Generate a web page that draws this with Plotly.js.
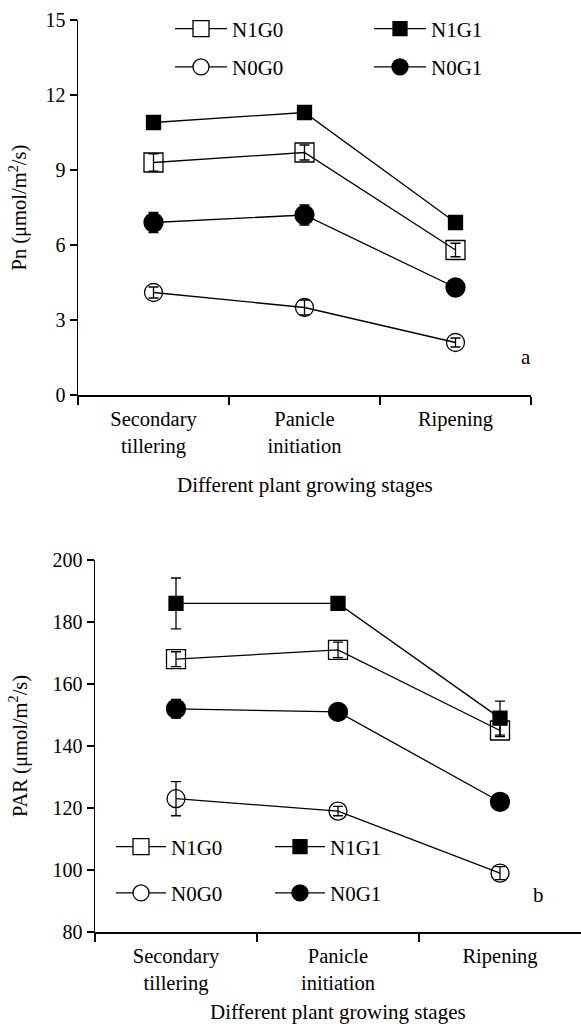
<!DOCTYPE html>
<html><head><meta charset="utf-8">
<script src="https://cdn.plot.ly/plotly-3.0.1.min.js"></script>
<style>html,body{margin:0;padding:0;background:#fff}#chart{width:581px;height:1024px}</style>
</head><body><div id="chart"></div>
<script>
// ---- data ----
const stages = ["Secondary<br>tillering", "Panicle<br>initiation", "Ripening"];
const seriesNames = ["N1G0", "N1G1", "N0G0", "N0G1"];

// Panel a: Pn (μmol/m²/s)
const pnN1G0 = [9.3, 9.7, 5.8];
const pnN1G0Err = [0.35, 0.3, 0.27];
const pnN1G1 = [10.9, 11.3, 6.9];
const pnN1G1Err = [0.2, 0.2, 0.2];
const pnN0G0 = [4.1, 3.5, 2.1];
const pnN0G0Err = [0.22, 0.3, 0.18];
const pnN0G1 = [6.9, 7.2, 4.3];
const pnN0G1Err = [0.4, 0.4, 0.2];
const pnTicks = [0, 3, 6, 9, 12, 15];

// Panel b: PAR (μmol/m²/s)
const parN1G0 = [168, 171, 145];
const parN1G0Err = [2.4, 2.5, 2.0];
const parN1G1 = [186, 186, 149];
const parN1G1Err = [8.2, 1.5, 5.5];
const parN0G0 = [123, 119, 99];
const parN0G0Err = [5.5, 1.5, 2.1];
const parN0G1 = [152, 151, 122];
const parN0G1Err = [3.0, 1.5, 1.5];
const parTicks = [80, 100, 120, 140, 160, 180, 200];

// ---- styles ----
const FONT = "'Liberation Serif', serif";
const W = 581, H = 1024;
const px = v => v / W;
const py = v => 1 - v / H;
const styles = {
  N1G0: {symbol: "square", size: 19, fill: "rgba(0,0,0,0)", legFill: "#fff"},
  N1G1: {symbol: "square", size: 14, fill: "#000", legFill: "#000"},
  N0G0: {symbol: "circle", size: 18, fill: "rgba(0,0,0,0)", legFill: "#fff"},
  N0G1: {symbol: "circle", size: 19, fill: "#000", legFill: "#000"}
};

function dataTrace(name, y, err, xa, ya) {
  const s = styles[name];
  return {
    type: "scatter", mode: "lines+markers", name: name, showlegend: false,
    x: stages, y: y, xaxis: xa, yaxis: ya,
    line: {color: "#000", width: 1.3},
    marker: {symbol: s.symbol, size: s.size, color: s.fill, line: {color: "#000", width: 1.3}},
    error_y: {type: "data", array: err, visible: true, color: "#000", thickness: 1.3, width: 5}
  };
}
function legendTrace(name, legendId, grp, xa, ya) {
  const s = styles[name];
  return {
    type: "scatter", mode: "lines+markers", name: name, showlegend: true,
    legend: legendId, legendgroup: grp,
    x: [null], y: [null], xaxis: xa, yaxis: ya,
    line: {color: "#000", width: 1.3},
    marker: {symbol: s.symbol, size: s.size, color: s.legFill, line: {color: "#000", width: 1.3}}
  };
}

const traces = [
  dataTrace("N0G0", pnN0G0, pnN0G0Err, "x", "y"),
  dataTrace("N0G1", pnN0G1, pnN0G1Err, "x", "y"),
  dataTrace("N1G0", pnN1G0, pnN1G0Err, "x", "y"),
  dataTrace("N1G1", pnN1G1, pnN1G1Err, "x", "y"),
  dataTrace("N0G0", parN0G0, parN0G0Err, "x2", "y2"),
  dataTrace("N0G1", parN0G1, parN0G1Err, "x2", "y2"),
  dataTrace("N1G1", parN1G1, parN1G1Err, "x2", "y2"),
  dataTrace("N1G0", parN1G0, parN1G0Err, "x2", "y2"),
  legendTrace("N1G0", "legend", "g1", "x", "y"),
  legendTrace("N0G0", "legend", "g2", "x", "y"),
  legendTrace("N1G1", "legend2", "g3", "x", "y"),
  legendTrace("N0G1", "legend2", "g4", "x", "y"),
  legendTrace("N1G0", "legend3", "g5", "x2", "y2"),
  legendTrace("N0G0", "legend3", "g6", "x2", "y2"),
  legendTrace("N1G1", "legend4", "g7", "x2", "y2"),
  legendTrace("N0G1", "legend4", "g8", "x2", "y2")
];

function xAxis(domain, anchor) {
  return {
    domain: domain, anchor: anchor, type: "category", range: [-0.5, 2.5],
    tickson: "boundaries", ticks: "outside", ticklen: 8, tickwidth: 1.5, tickcolor: "#000",
    ticklabelstandoff: 5,
    showline: true, linecolor: "#000", linewidth: 1.5, showgrid: false, zeroline: false,
    tickfont: {family: FONT, size: 20.5, color: "#000"}, fixedrange: true
  };
}
function yAxis(domain, anchor, range, vals) {
  return {
    domain: domain, anchor: anchor, range: range, tickvals: vals,
    ticks: "outside", ticklen: 7, tickwidth: 1.5, tickcolor: "#000",
    showline: true, linecolor: "#000", linewidth: 1.5, showgrid: false, zeroline: false,
    tickfont: {family: FONT, size: 20, color: "#000"}, fixedrange: true
  };
}
function leg(x, yTop, iw, gap) {
  return {
    x: px(x), y: py(yTop), xanchor: "left", yanchor: "top",
    bgcolor: "rgba(0,0,0,0)", borderwidth: 0,
    font: {family: FONT, size: 21, color: "#000"},
    itemwidth: iw, tracegroupgap: gap, traceorder: "grouped"
  };
}
function ann(text, x, y, angle, size) {
  return {
    text: text, x: px(x), y: py(y), xref: "paper", yref: "paper",
    showarrow: false, xanchor: "center", yanchor: "middle", textangle: angle || 0,
    font: {family: FONT, size: size || 20, color: "#000"}
  };
}

const layout = {
  width: W, height: H,
  margin: {l: 0, r: 0, t: 0, b: 0},
  paper_bgcolor: "#fff", plot_bgcolor: "#fff",
  font: {family: FONT, size: 20, color: "#000"},
  xaxis: xAxis([px(78), px(531)], "y"),
  yaxis: yAxis([py(395), py(20)], "x", [0, 15], pnTicks),
  xaxis2: xAxis([px(95), 1], "y2"),
  yaxis2: yAxis([py(932), py(560)], "x2", [80, 200], parTicks),
  legend: leg(170, 8.5, 52, 8),
  legend2: leg(369, 8.5, 52, 8),
  legend3: leg(111, 826.5, 50, 16),
  legend4: leg(270, 826.5, 50, 16),
  annotations: [
    ann("Pn (μmol/m<sup>2</sup>/s)", 18, 207.5, -90, 20.5),
    ann("Different plant growing stages", 304.5, 485, 0, 21),
    ann("a", 526, 357, 0, 21),
    ann("PAR (μmol/m<sup>2</sup>/s)", 18, 746, -90, 20.5),
    ann("Different plant growing stages", 338, 1012, 0, 21),
    ann("b", 538, 895, 0, 21)
  ]
};

Plotly.newPlot("chart", traces, layout, {displayModeBar: false, staticPlot: true});
</script>
</body></html>
